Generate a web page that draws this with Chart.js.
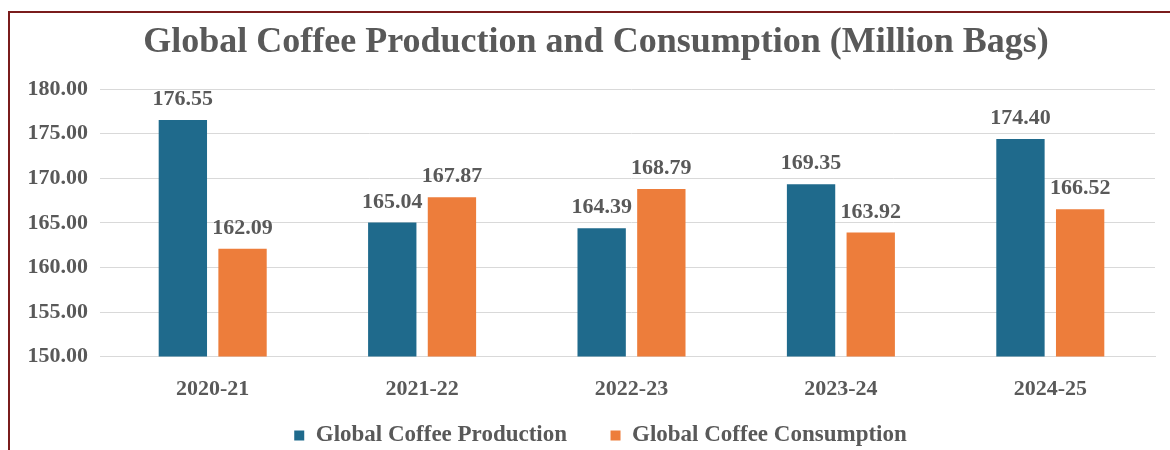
<!DOCTYPE html>
<html>
<head>
<meta charset="utf-8">
<script src="https://cdn.jsdelivr.net/npm/chart.js@4"></script>
<style>
  html, body { margin: 0; padding: 0; background: #fff; overflow: hidden; }
  #box {
    position: absolute; left: 8px; top: 11px;
    width: 1180px; height: 470px;
    border-left: 2px solid #7a1c1c; border-top: 2px solid #7a1c1c;
  }
  #wrap { position: absolute; left: 0; top: 0; width: 1170px; height: 444px; }
</style>
</head>
<body>
<div id="box"><div id="wrap"><canvas id="myChart"></canvas></div></div>
<script>
var seasons = ['2020-21', '2021-22', '2022-23', '2023-24', '2024-25'];
var production = [176.55, 165.04, 164.39, 169.35, 174.40];
var consumption = [162.09, 167.87, 168.79, 163.92, 166.52];
var yTicks = [150, 155, 160, 165, 170, 175, 180];

var serif = '"Liberation Serif", "Times New Roman", serif';
var gray = '#595959';

// draws the value above each bar
var valueLabels = {
  id: 'valueLabels',
  afterLayout: function(chart) {
    // title and legend are centred on the whole box, not on the plot
    if (chart.titleBlock) chart.titleBlock.left += 27;
    if (chart.legend) chart.legend.left += 36;
  },
  afterDatasetsDraw: function(chart) {
    var ctx = chart.ctx;
    ctx.save();
    ctx.font = 'bold 22px ' + serif;
    ctx.fillStyle = gray;
    ctx.textAlign = 'center';
    ctx.textBaseline = 'alphabetic';
    chart.data.datasets.forEach(function(ds, i) {
      chart.getDatasetMeta(i).data.forEach(function(bar, j) {
        ctx.fillText(ds.data[j].toFixed(2), bar.x, bar.y - 15);
      });
    });
    ctx.restore();
  }
};

var ctx = document.getElementById('myChart').getContext('2d');
var myChart = new Chart(ctx, {
  type: 'bar',
  data: {
    labels: seasons,
    datasets: [
      {
        label: 'Global Coffee Production',
        data: production,
        backgroundColor: '#1f6a8c',
        barPercentage: 0.81,
        categoryPercentage: 0.57
      },
      {
        label: 'Global Coffee Consumption',
        data: consumption,
        backgroundColor: '#ed7d3b',
        barPercentage: 0.81,
        categoryPercentage: 0.57
      }
    ]
  },
  options: {
    responsive: true,
    maintainAspectRatio: false,
    animation: false,
    layout: { padding: { left: 0, right: 25, top: 8, bottom: 0 } },
    plugins: {
      title: {
        display: true,
        text: 'Global Coffee Production and Consumption (Million Bags)',
        color: gray,
        font: { family: serif, size: 36, weight: 'bold' },
        padding: { top: 0, bottom: 25 }
      },
      legend: {
        position: 'bottom',
        labels: {
          color: gray,
          font: { family: serif, size: 23, weight: 'bold' },
          boxWidth: 10,
          boxHeight: 10,
          padding: 9,
          generateLabels: function(chart) {
            var items = Chart.defaults.plugins.legend.labels.generateLabels(chart);
            // extra room after the first entry, like the original spacing
            items[0].text = items[0].text + '      ';
            return items;
          }
        }
      },
      tooltip: { enabled: false }
    },
    scales: {
      x: {
        grid: { display: false },
        border: { color: '#d9d9d9' },
        ticks: {
          color: gray,
          font: { family: serif, size: 22, weight: 'bold' },
          padding: 12
        }
      },
      y: {
        min: yTicks[0],
        max: yTicks[yTicks.length - 1],
        afterBuildTicks: function(axis) {
          axis.ticks = yTicks.map(function(v) { return { value: v }; });
        },
        afterFit: function(axis) { axis.width = 98; },
        grid: { color: '#d9d9d9' },
        border: { display: false },
        ticks: {
          color: gray,
          font: { family: serif, size: 22, weight: 'bold' },
          padding: 12,
          callback: function(v) { return v.toFixed(2); }
        }
      }
    }
  },
  plugins: [valueLabels]
});
</script>
</body>
</html>
